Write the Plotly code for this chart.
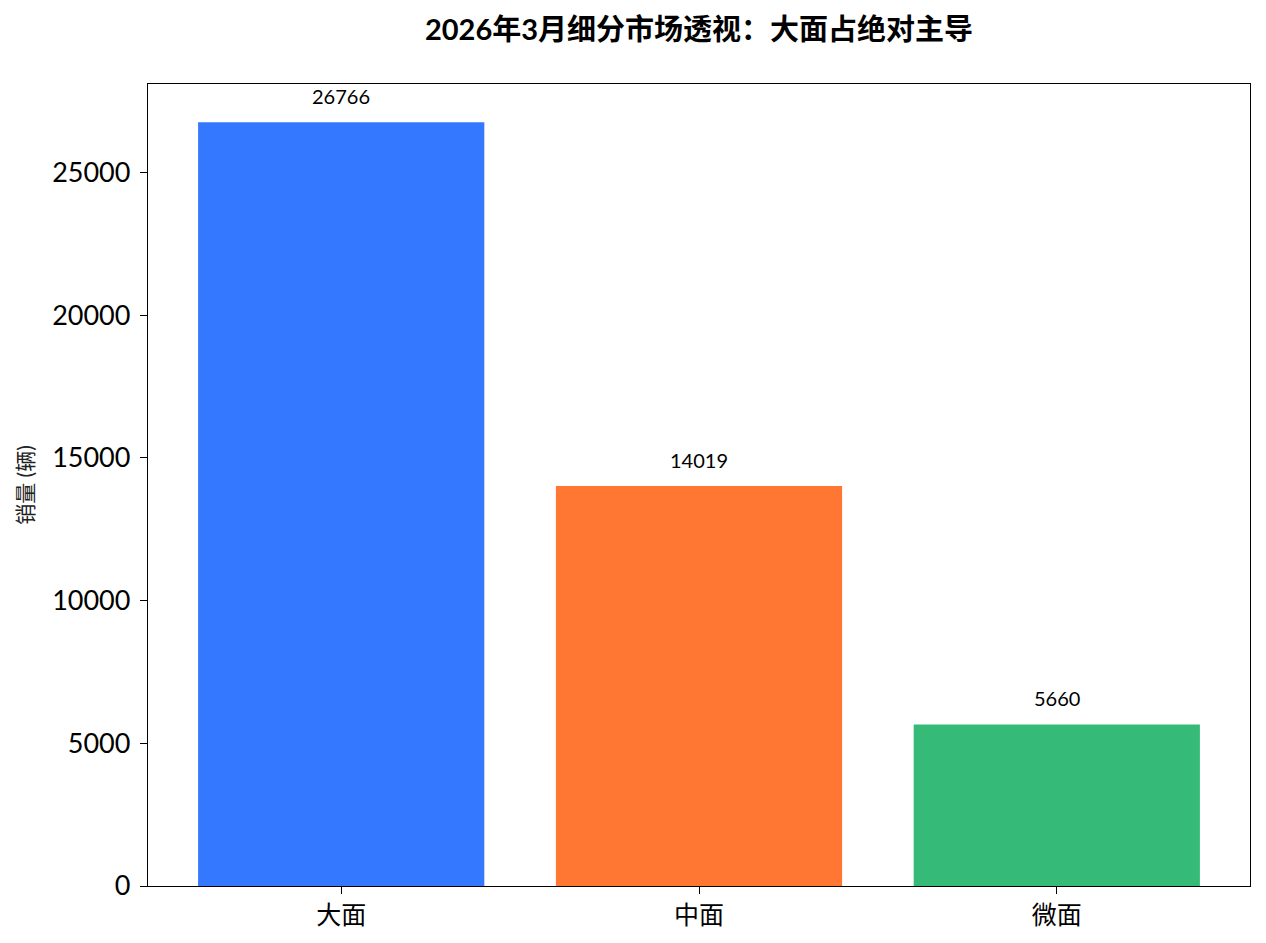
import plotly.graph_objects as go

# 数据
categories = ['大面', '中面', '微面']
sales = [26766, 14019, 5660]
bar_colors = ['#3478FF', '#FF7733', '#35BB77']
y_ticks = [0, 5000, 10000, 15000, 20000, 25000]

FONT = 'Lato, "Noto Sans CJK SC", sans-serif'

fig = go.Figure()

fig.add_trace(go.Bar(
    x=list(range(len(categories))),
    y=sales,
    width=0.8,
    marker=dict(color=bar_colors, line=dict(width=0)),
    hoverinfo='x+y',
    showlegend=False
))

# 柱顶数值
for i, v in enumerate(sales):
    fig.add_annotation(
        x=i, y=v, text=str(v),
        showarrow=False, yanchor='bottom', yshift=12,
        font=dict(size=20, color='black', family=FONT)
    )

# 页面 body 有 8px 边距，尺寸相应缩小
fig.update_layout(
    width=1250, height=927,
    title=dict(
        text='<b>2026年3月细分市场透视：大面占绝对主导</b>',
        x=(140 + 1242) / 2 / 1250, xanchor='center',
        y=1 - 22 / 927, yanchor='middle',
        font=dict(size=29, color='black', family=FONT)
    ),
    margin=dict(l=140, r=8, t=76, b=49),
    plot_bgcolor='white', paper_bgcolor='white',
    font=dict(family=FONT, color='black'),
    xaxis=dict(
        range=[-0.54, 2.54],
        tickvals=list(range(len(categories))),
        ticktext=categories,
        ticks='outside', ticklen=7, tickcolor='black',
        tickfont=dict(size=25),
        automargin=False,
        showline=True, linecolor='black', linewidth=1.3, mirror=True,
        showgrid=False, zeroline=False
    ),
    yaxis=dict(
        range=[0, 28104],
        tickvals=y_ticks,
        ticktext=[str(t) for t in y_ticks],
        ticks='outside', ticklen=7, tickcolor='black',
        ticklabelstandoff=4,
        tickfont=dict(size=27),
        title=dict(text='销量 (辆)', font=dict(size=21, color='#222'), standoff=12),
        showline=True, linecolor='black', linewidth=1.3, mirror=True,
        showgrid=False, zeroline=False
    )
)

fig.write_html("out.html")
